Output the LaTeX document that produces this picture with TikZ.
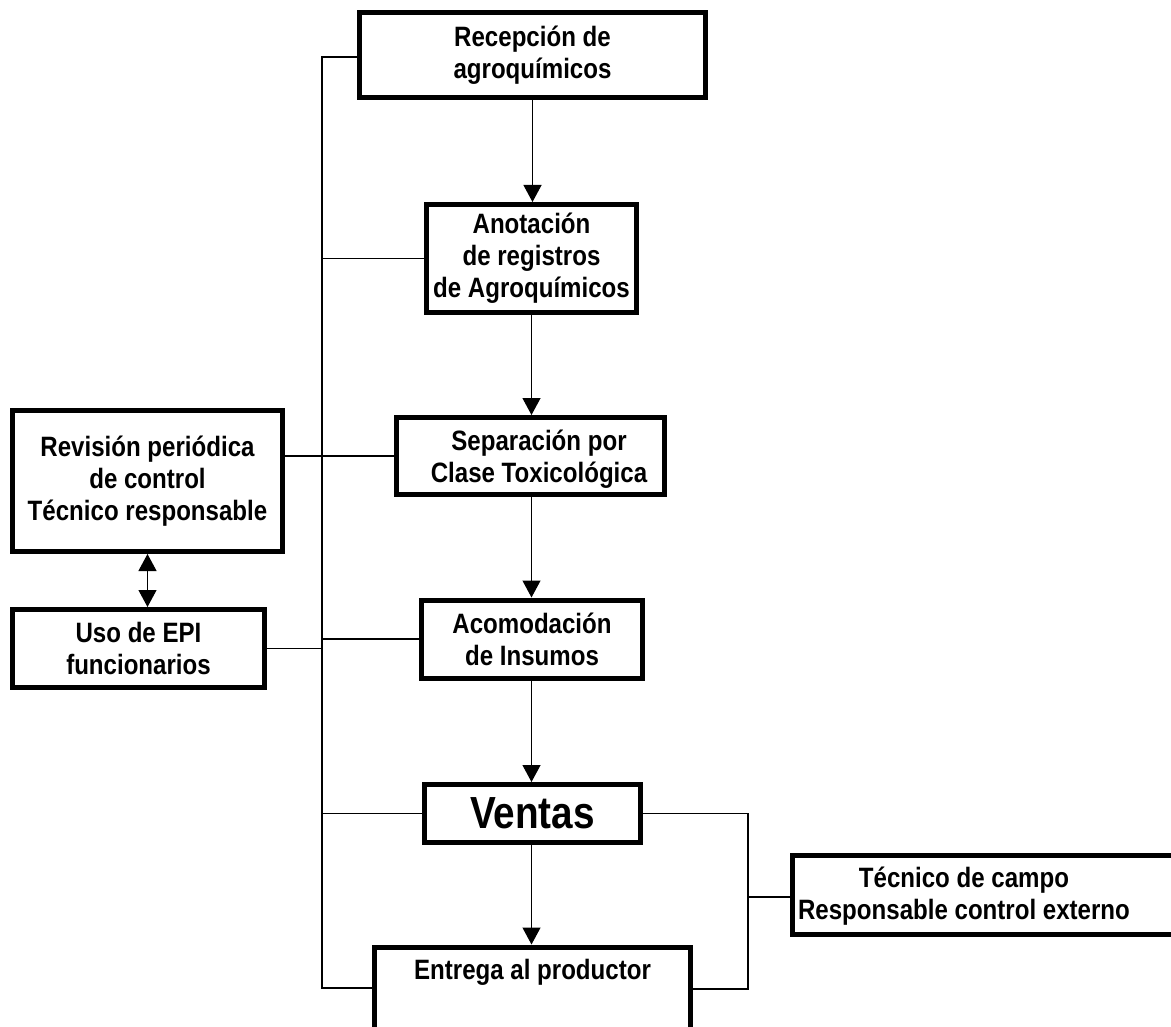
\documentclass[tikz,border=0pt]{standalone}
\usepackage{fontspec}
\setmainfont{Liberation Sans}[FakeStretch=0.86]
\usetikzlibrary{arrows.meta}
\begin{document}
\begin{tikzpicture}[x=1pt,y=-1pt,
  box/.style={draw=black,line width=5pt,fill=white,inner sep=0pt,minimum width=#1},
  txt/.style={align=center,inner sep=0pt,font=\bfseries\fontsize{28}{32}\selectfont},
  conn/.style={line width=1.2pt,draw=black},
  arr/.style={conn,-{Triangle[length=17pt,width=18pt]}},
  darr/.style={conn,{Triangle[length=17pt,width=18pt]}-{Triangle[length=17pt,width=18pt]}}]
\useasboundingbox (0,0) rectangle (1171,1027);
\clip (0,0) rectangle (1171,1027);
% boxes
\node[box=346pt,minimum height=85pt,txt] (rec) at (532.5,55) {Recepción de\\agroquímicos};
\node[box=210pt,minimum height=108pt,txt] (anot) at (531.5,258.5) {Anotación\\de registros\\de Agroquímicos};
\node[box=268pt,minimum height=77pt] (sep) at (530.5,456) {};
\node[txt] (sepT) at (539,459) {Separación por\\Clase Toxicológica};
\node[box=270pt,minimum height=141pt,txt] (rev) at (147.5,481) {Revisión periódica\\de control\\Técnico responsable};
\node[box=252pt,minimum height=78pt,txt] (uso) at (138.5,648.5) {Uso de EPI\\funcionarios};
\node[box=221pt,minimum height=78pt,txt] (acom) at (532,639) {Acomodación\\de Insumos};
\node[box=216pt,minimum height=58pt,font=\bfseries\fontsize{45}{50}\selectfont] (vent) at (532.5,813.5) {Ventas};
\node[box=316pt,minimum height=130pt] (ent) at (532.5,1012) {};
\node[txt] (entT) at (532.5,972) {Entrega al productor};
\node[box=395pt,minimum height=79pt] (tec) at (990,895) {};
\node[txt] (tecT) at (964,896) {Técnico de campo\\Responsable control externo};
% spine coordinates
\coordinate (sTop) at (322,57);
\coordinate (sBot) at (322,988);
\coordinate (rTop) at (748,813.5);
\coordinate (rBot) at (748,989);
\coordinate (rMid) at (748,897);
% left spine
\draw[conn] (sTop -| rec.west) -- (sTop) -- (sBot) -- (sBot -| ent.west);
\draw[conn] (anot.west) -- (anot.west -| sTop);
\draw[conn] (sep.west) -- (sep.west -| rev.east);
\draw[conn] (uso.east) -- (uso.east -| sTop);
\draw[conn] (acom.west) -- (acom.west -| sTop);
\draw[conn] (vent.west) -- (vent.west -| sTop);
% right spine
\draw[conn] (vent.east) -- (rTop) -- (rBot) -- (rBot -| ent.east);
\draw[conn] (rMid) -- (rMid -| tec.west);
% main flow arrows
\draw[arr] (rec.south) -- (rec.south |- anot.north);
\draw[arr] (anot.south) -- (anot.south |- sep.north);
\draw[arr] (sep.south -| anot.south) -- (anot.south |- acom.north);
\draw[arr] (acom.south -| anot.south) -- (anot.south |- vent.north);
\draw[arr] (vent.south -| anot.south) -- (anot.south |- ent.north);
% double arrow
\draw[darr] (rev.south) -- (rev.south |- uso.north);
\end{tikzpicture}
\end{document}
